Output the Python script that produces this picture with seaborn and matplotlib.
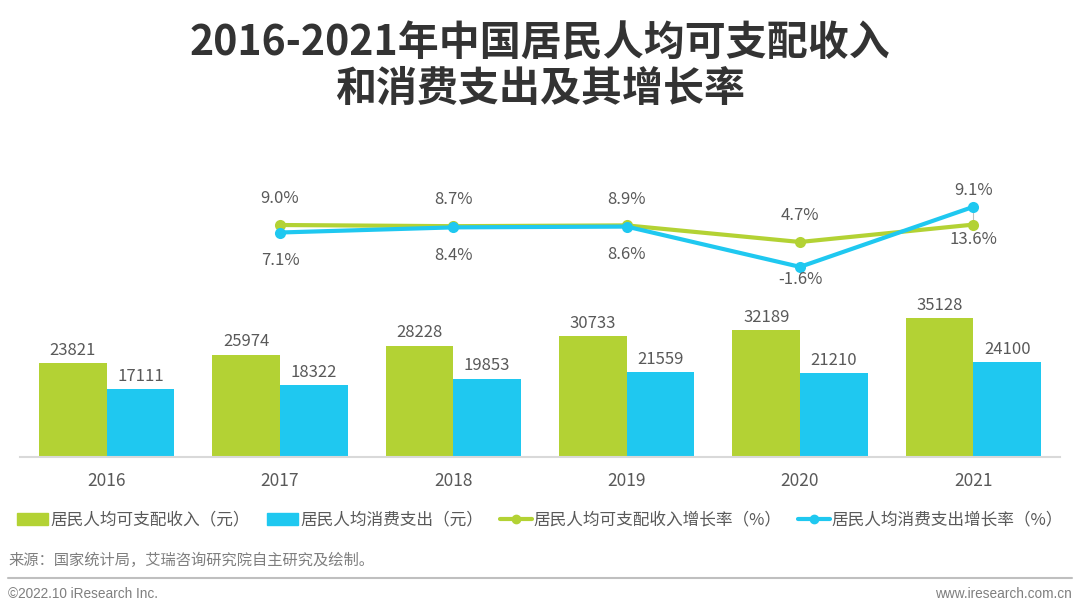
import pandas as pd
import numpy as np
import matplotlib.pyplot as plt
import seaborn as sns
from matplotlib.patches import Patch
from matplotlib.lines import Line2D

# Data
years = ['2016', '2017', '2018', '2019', '2020', '2021']
income = [23821, 25974, 28228, 30733, 32189, 35128]
spending = [17111, 18322, 19853, 21559, 21210, 24100]

rate_years = ['2017', '2018', '2019', '2020', '2021']
income_rate = [9.0, 8.7, 8.9, 4.7, 9.1]
spending_rate = [7.1, 8.4, 8.6, -1.6, 13.6]
# labels as printed on the original (2021 labels are swapped there)
income_rate_labels = ['9.0%', '8.7%', '8.9%', '4.7%', '13.6%']
spending_rate_labels = ['7.1%', '8.4%', '8.6%', '-1.6%', '9.1%']

bar_names = ['居民人均可支配收入（元）', '居民人均消费支出（元）']
line_names = ['居民人均可支配收入增长率（%）', '居民人均消费支出增长率（%）']

title = '2016-2021年中国居民人均可支配收入\n和消费支出及其增长率'
source = '来源：国家统计局，艾瑞咨询研究院自主研究及绘制。'

GREEN = '#B3D234'
BLUE = '#1FC8F0'
TEXT = '#595959'


def main():
    sns.set_style('white')
    plt.rcParams['font.family'] = ['Noto Sans CJK SC', 'DejaVu Sans']

    W, H = 1080, 614
    fig = plt.figure(figsize=(W / 100, H / 100), dpi=100)

    # axes: bottom at y=457px, top at y=160px, x from 20 to 1060px
    ax = fig.add_axes([20 / W, (H - 457) / H, 1040 / W, 297 / H])

    df = pd.DataFrame({
        'year': years * 2,
        'value': income + spending,
        'series': [bar_names[0]] * 6 + [bar_names[1]] * 6,
    })
    sns.barplot(data=df, x='year', y='value', hue='series',
                palette=[GREEN, BLUE], width=0.78, saturation=1,
                linewidth=0, ax=ax, legend=False)
    for cont in ax.containers:
        ax.bar_label(cont, fmt='%d', padding=3, fontsize=12, color=TEXT)

    ax.set_xlim(-0.5, 5.5)
    ax.set_ylim(0, 297 / 0.003946)
    ax.set_xlabel('')
    ax.set_ylabel('')
    ax.set_yticks([])
    ax.tick_params(axis='x', length=0, pad=11, labelsize=12.5, labelcolor=TEXT)
    for s in ['top', 'right', 'left']:
        ax.spines[s].set_visible(False)
    ax.spines['bottom'].set_color('#d9d9d9')
    ax.spines['bottom'].set_linewidth(1.5)

    # growth rate lines on a twin axis
    ax2 = ax.twinx()
    xpos = [years.index(y) for y in rate_years]
    sns.lineplot(x=xpos, y=income_rate, ax=ax2, color=GREEN, lw=3,
                 marker='o', markersize=8, markeredgewidth=0)
    sns.lineplot(x=xpos, y=spending_rate, ax=ax2, color=BLUE, lw=3,
                 marker='o', markersize=8, markeredgewidth=0)
    lo = 9.0 - 232 / 3.95
    ax2.set_ylim(lo, lo + 297 / 3.95)
    ax2.set_yticks([])
    for s in ax2.spines.values():
        s.set_visible(False)

    green_off = [19, 19, 19, 19, -11]
    blue_off = [-20, -20, -20, -9, 12]
    for i, x in enumerate(xpos):
        ax2.annotate(income_rate_labels[i], (x, income_rate[i]),
                     xytext=(0, green_off[i]), textcoords='offset points',
                     ha='center', va='center', fontsize=12, color=TEXT)
        ax2.annotate(spending_rate_labels[i], (x, spending_rate[i]),
                     xytext=(0, blue_off[i]), textcoords='offset points',
                     ha='center', va='center', fontsize=12, color=TEXT)
    # small leader line at 2021
    ax2.plot([xpos[-1], xpos[-1]], [income_rate[-1], spending_rate[-1]],
             color='#bfbfbf', lw=0.8, zorder=0)

    # title
    fig.text(0.5, 1 - 66 / H, title, ha='center', va='center',
             fontsize=29.5, fontweight='bold', color='#333333', linespacing=1.1)

    # legend
    handles = [
        Patch(color=GREEN, label=bar_names[0]),
        Patch(color=BLUE, label=bar_names[1]),
        Line2D([], [], color=GREEN, lw=3, marker='o', markersize=6, label=line_names[0]),
        Line2D([], [], color=BLUE, lw=3, marker='o', markersize=6, label=line_names[1]),
    ]
    fig.legend(handles=handles, loc='center', bbox_to_anchor=(0.5, 1 - 520 / H),
               ncol=4, frameon=False, fontsize=12, handlelength=1.9,
               handletextpad=0.12, columnspacing=1.0, labelcolor=TEXT)

    # source and footer
    fig.text(8 / W, 1 - 560 / H, source, ha='left', va='center',
             fontsize=11, color='#7f7f7f')
    fig.add_artist(Line2D([8 / W, 1072 / W], [1 - 578 / H, 1 - 578 / H],
                          color='#bfbfbf', lw=1.5))
    fig.text(8 / W, 1 - 594 / H, '©2022.10 iResearch Inc.', ha='left', va='center',
             fontsize=9.8, color='#7f7f7f', family='Liberation Sans')
    fig.text(1072 / W, 1 - 594 / H, 'www.iresearch.com.cn', ha='right', va='center',
             fontsize=9.8, color='#7f7f7f', family='Liberation Sans')

    fig.savefig('out.png', dpi=100)


if __name__ == '__main__':
    main()
